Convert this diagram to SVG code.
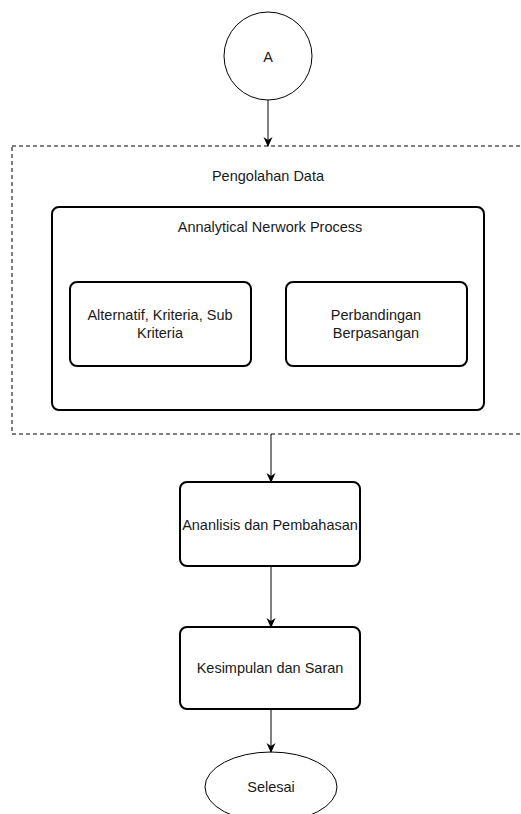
<svg xmlns="http://www.w3.org/2000/svg" width="521" height="814" viewBox="0 0 521 814">
<defs>
<marker id="ah" viewBox="0 0 10 10" refX="9" refY="5" markerWidth="10" markerHeight="10" markerUnits="userSpaceOnUse" orient="auto">
<path d="M0,0.5 L10,5 L0,9.5 L3,5 Z" fill="#000"/>
</marker>
</defs>
<style>
text{font-family:"Liberation Sans",Arial,sans-serif;font-size:14.5px;fill:#1a1a1a;text-anchor:middle;dominant-baseline:central}
.box{fill:#fff;stroke:#000;stroke-width:2}
.thin{fill:#fff;stroke:#000;stroke-width:1}
.edge{stroke:#000;stroke-width:1;fill:none;marker-end:url(#ah)}
</style>
<rect width="521" height="814" fill="#fff"/>
<g id="start">
<circle class="thin" cx="268" cy="56" r="44"/>
<text x="268" y="57">A</text>
</g>
<g id="pengolahan">
<rect x="12" y="146" width="530" height="288" fill="none" stroke="#000" stroke-width="1" stroke-dasharray="4,3"/>
<text x="268" y="176">Pengolahan Data</text>
</g>
<g id="anp">
<rect class="box" x="52" y="207" width="432" height="203" rx="7"/>
<text x="270" y="227">Annalytical Nerwork Process</text>
</g>
<g id="alternatif">
<rect class="box" x="70" y="282" width="181" height="84" rx="7"/>
<text x="160" y="315">Alternatif, Kriteria, Sub</text>
<text x="160" y="333">Kriteria</text>
</g>
<g id="perbandingan">
<rect class="box" x="286" y="282" width="181" height="84" rx="7"/>
<text x="376" y="315">Perbandingan</text>
<text x="376" y="333">Berpasangan</text>
</g>
<g id="analisis">
<rect class="box" x="180" y="482" width="180" height="84" rx="7"/>
<text x="270" y="525">Ananlisis dan Pembahasan</text>
</g>
<g id="kesimpulan">
<rect class="box" x="180" y="627" width="180" height="82" rx="7"/>
<text x="270" y="668">Kesimpulan dan Saran</text>
</g>
<g id="selesai">
<ellipse class="thin" cx="271" cy="787" rx="66" ry="35"/>
<text x="271" y="787">Selesai</text>
</g>
<g id="connectors">
<line class="edge" x1="268" y1="100" x2="268" y2="146"/>
<line class="edge" x1="271" y1="434" x2="271" y2="482"/>
<line class="edge" x1="271" y1="566" x2="271" y2="627"/>
<line class="edge" x1="271" y1="709" x2="271" y2="752"/>
</g>
</svg>
